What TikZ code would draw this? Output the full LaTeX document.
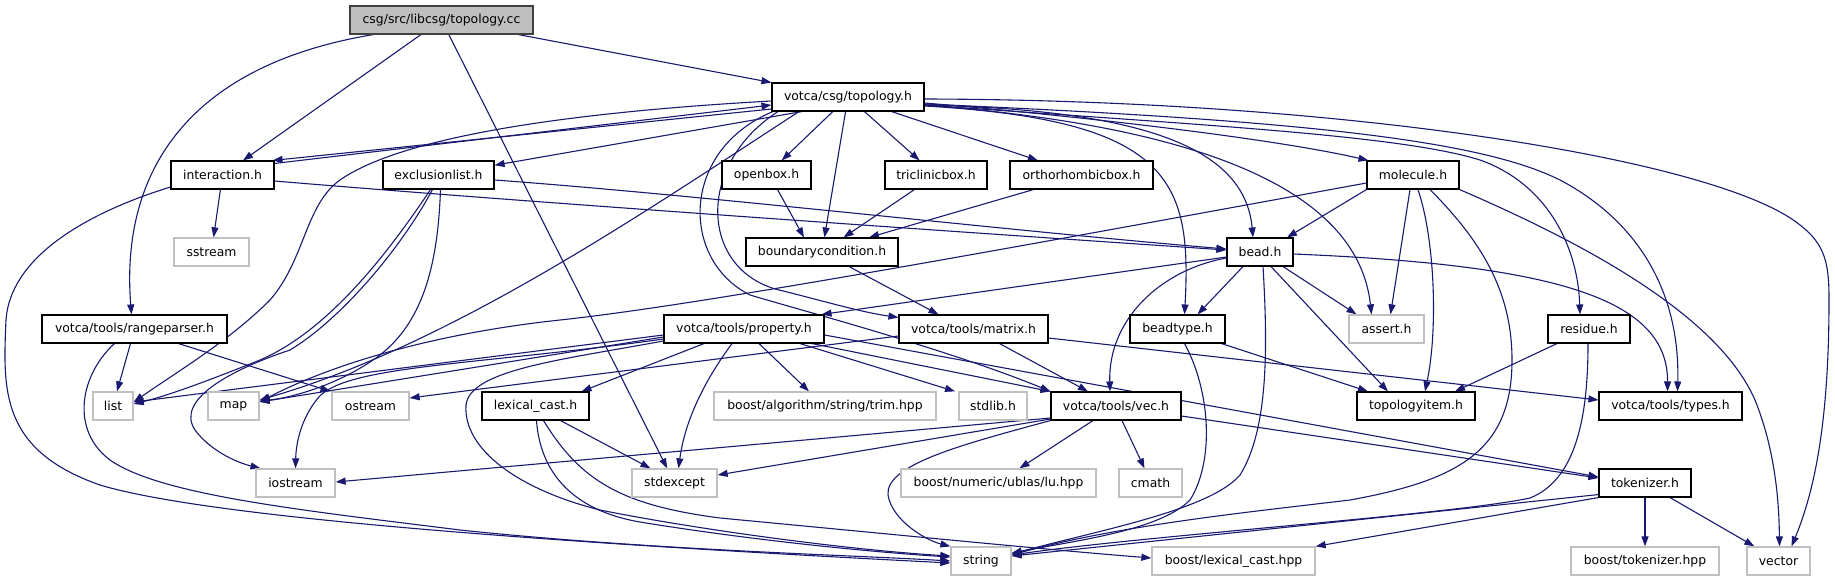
\documentclass[tikz,border=0pt]{standalone}
\usepackage{fontspec}
\setmainfont{DejaVu Sans}
\usetikzlibrary{arrows.meta}
\definecolor{edgeblue}{HTML}{191970}
\definecolor{sysgray}{HTML}{C0C0C0}
\definecolor{rootfill}{HTML}{BFBFBF}
\definecolor{rootdraw}{HTML}{404040}
\pgfdeclarelayer{edges}
\pgfsetlayers{edges,main}
\begin{document}
\begin{tikzpicture}[x=1pt,y=-1pt,
  hdr/.style={draw=black, line width=1.1pt, fill=white, minimum height=28pt, inner sep=0pt, font=\fontsize{12.4}{14}\selectfont},
  sys/.style={hdr, draw=sysgray, line width=1.3pt},
  root/.style={hdr, fill=rootfill, draw=rootdraw},
  dep/.style={draw=edgeblue, line width=1.1pt, -{Triangle[length=10pt,width=7pt]}},
]
\useasboundingbox (0,0) rectangle (1835,581);
% nodes
\node[root, minimum width=183pt] (T) at (441.5,20) {csg/src/libcsg/topology.cc};
\node[hdr, minimum width=152pt] (TH) at (848,97) {votca/csg/topology.h};
\node[hdr, minimum width=103pt] (inter) at (222.5,175) {interaction.h};
\node[hdr, minimum width=111pt] (excl) at (438.5,175) {exclusionlist.h};
\node[hdr, minimum width=89pt] (openbox) at (766.5,175) {openbox.h};
\node[hdr, minimum width=102pt] (tricl) at (936,175) {triclinicbox.h};
\node[hdr, minimum width=143pt] (ortho) at (1081.5,175) {orthorhombicbox.h};
\node[hdr, minimum width=92pt] (molecule) at (1413,175) {molecule.h};
\node[sys, minimum width=75pt] (sstream) at (211.5,252) {sstream};
\node[hdr, minimum width=152pt] (bc) at (822,252) {boundarycondition.h};
\node[hdr, minimum width=66pt] (bead) at (1260,252) {bead.h};
\node[hdr, minimum width=185pt] (range) at (134.5,329) {votca/tools/rangeparser.h};
\node[hdr, minimum width=160pt] (prop) at (744,329) {votca/tools/property.h};
\node[hdr, minimum width=149pt] (matrix) at (973.5,329) {votca/tools/matrix.h};
\node[hdr, minimum width=95pt] (beadtype) at (1177.5,329) {beadtype.h};
\node[sys, minimum width=75pt] (assert) at (1386.5,329) {assert.h};
\node[hdr, minimum width=82pt] (residue) at (1589,329) {residue.h};
\node[sys, minimum width=40pt] (list) at (113,406) {list};
\node[sys, minimum width=51pt] (map) at (233.5,406) {map};
\node[sys, minimum width=77pt] (ostream) at (370.5,406) {ostream};
\node[hdr, minimum width=107pt] (lexcast) at (535.5,406) {lexical\_cast.h};
\node[sys, minimum width=222pt] (trim) at (825,406) {boost/algorithm/string/trim.hpp};
\node[sys, minimum width=68pt] (stdlib) at (993,406) {stdlib.h};
\node[hdr, minimum width=130pt] (vec) at (1116,406) {votca/tools/vec.h};
\node[hdr, minimum width=118pt] (topitem) at (1416,406) {topologyitem.h};
\node[hdr, minimum width=143pt] (types) at (1670.5,406) {votca/tools/types.h};
\node[sys, minimum width=79pt] (iostream) at (295.5,483) {iostream};
\node[sys, minimum width=85pt] (stdexcept) at (674.5,483) {stdexcept};
\node[sys, minimum width=195pt] (lu) at (998.5,483) {boost/numeric/ublas/lu.hpp};
\node[sys, minimum width=63pt] (cmath) at (1150.5,483) {cmath};
\node[hdr, minimum width=92pt] (tokenizer) at (1645,483) {tokenizer.h};
\node[sys, minimum width=60pt] (string) at (981,561) {string};
\node[sys, minimum width=163pt] (lexhpp) at (1233.5,561) {boost/lexical\_cast.hpp};
\node[sys, minimum width=148pt] (tokhpp) at (1645,561) {boost/tokenizer.hpp};
\node[sys, minimum width=63pt] (vector) at (1778.5,561) {vector};

\begin{pgfonlayer}{edges}
\fill[white] (0,0) rectangle (1835,581);
% topology.cc
\draw[dep] ([xshift=-68pt]T.south) .. controls (190,65) and (120,170) .. ([xshift=-3pt]range.north);
\draw[dep] (T) -- (inter);
\draw[dep] (T) -- (stdexcept);
\draw[dep] (T) -- (TH);
% interaction <-> topology.h
\draw[dep] ([yshift=-3pt]inter.north east) -- ([yshift=-8pt]TH.west);
\draw[dep] ([yshift=-12pt]TH.west) -- ([xshift=-2pt]inter.north east);
% topology.h
\draw[dep] ([yshift=-4pt]TH.west) .. controls (520,115) and (390,145) .. (340,180) .. controls (305,205) and (305,260) .. (270,300) .. controls (230,340) and (180,370) .. ([yshift=4pt]list.east);
\draw[dep] ([xshift=-46pt]TH.south) -- (excl);
\draw[dep] (TH) -- (openbox);
\draw[dep] (TH) -- (bc);
\draw[dep] (TH) -- (tricl);
\draw[dep] (TH) -- (ortho);
\draw[dep] ([yshift=-6pt]TH.east) .. controls (1100,118) and (1280,140) .. ([xshift=2pt]molecule.north west);
\draw[dep] ([yshift=-8pt]TH.east) .. controls (1150,110) and (1245,150) .. ([xshift=-7pt]bead.north);
\draw[dep] ([yshift=-9pt]TH.east) .. controls (1170,120) and (1192,180) .. ([xshift=7pt]beadtype.north);
\draw[dep] ([yshift=-8pt]TH.east) .. controls (1250,130) and (1360,210) .. ([xshift=-15pt]assert.north);
\draw[dep] ([yshift=-8pt]TH.east) .. controls (1200,125) and (1400,135) .. (1480,160) .. controls (1550,185) and (1578,250) .. ([xshift=-9pt]residue.north);
\draw[dep] ([yshift=-7pt]TH.east) .. controls (1300,120) and (1480,140) .. (1560,180) .. controls (1645,225) and (1680,300) .. ([xshift=7pt]types.north);
\draw[dep] ([yshift=-2pt]TH.east) .. controls (1350,100) and (1720,160) .. (1800,225) .. controls (1826,245) and (1829,265) .. (1829,300) .. controls (1829,420) and (1815,490) .. ([xshift=13pt]vector.north);
\draw[dep] ([xshift=-75pt]TH.south) .. controls (680,150) and (680,260) .. (750,295) .. controls (800,310) and (950,350) .. (vec.north west);
\draw[dep] ([xshift=-70pt]TH.south) .. controls (695,165) and (700,270) .. (779,290) .. controls (820,300) and (860,312) .. ([yshift=-3pt]matrix.north west);
\draw[dep] ([xshift=-49pt]TH.south) .. controls (640,215) and (450,345) .. ([yshift=6pt]map.east);
% molecule
\draw[dep] ([yshift=-8pt]molecule.west) .. controls (1000,250) and (700,305) .. (560,320) .. controls (420,335) and (320,370) .. ([yshift=4pt]map.east);
\draw[dep] (molecule.south west) -- ([xshift=27pt]bead.north);
\draw[dep] ([xshift=-3pt]molecule.south) -- ([xshift=4pt]assert.north);
\draw[dep] ([xshift=5pt]molecule.south) .. controls (1435,240) and (1438,330) .. ([xshift=9pt]topitem.north);
\draw[dep] ([xshift=17pt]molecule.south) .. controls (1480,240) and (1512,290) .. (1512,360) .. controls (1512,450) and (1460,480) .. (1350,500) .. controls (1250,512) and (1120,525) .. ([yshift=6pt]string.east);
\draw[dep] (molecule.south east) .. controls (1600,250) and (1720,320) .. (1755,400) .. controls (1775,450) and (1779,500) .. ([xshift=1pt]vector.north);
% bead
\draw[dep] ([yshift=-5pt]bead.west) -- ([xshift=-3pt]prop.north east);
\draw[dep] ([yshift=-6pt]bead.west) .. controls (1160,270) and (1108,320) .. ([xshift=-6pt]vec.north);
\draw[dep] ([xshift=3pt]bead.south) .. controls (1268,350) and (1268,430) .. (1240,475) .. controls (1210,510) and (1100,530) .. ([yshift=7pt]string.east);
\draw[dep] ([xshift=-17pt]bead.south) -- ([xshift=20pt]beadtype.north);
\draw[dep] ([xshift=11pt]bead.south) -- ([xshift=-28pt]topitem.north);
\draw[dep] ([xshift=23pt]bead.south) -- ([xshift=-30pt]assert.north);
\draw[dep] ([yshift=-2pt]bead.east) .. controls (1560,265) and (1668,300) .. ([xshift=-3pt]types.north);
% beadtype
\draw[dep] ([xshift=-4pt]beadtype.south east) -- ([xshift=-48pt]topitem.north);
\draw[dep] ([xshift=7pt]beadtype.south) .. controls (1210,390) and (1215,460) .. (1190,500) .. controls (1160,530) and (1080,540) .. ([yshift=8pt]string.east);
% residue
\draw[dep] ([xshift=-32pt]residue.south) -- ([xshift=39pt]topitem.north);
\draw[dep] ([xshift=-1pt]residue.south) .. controls (1588,420) and (1575,480) .. (1530,498) .. controls (1450,515) and (1150,535) .. ([yshift=6pt]string.east);
% tokenizer
\draw[dep] ([yshift=3pt]tokenizer.south west) -- ([yshift=5pt]string.east);
\draw[dep] (tokenizer.south west) -- (lexhpp.north east);
\draw[dep] (tokenizer) -- (tokhpp);
\draw[dep] ([xshift=25pt]tokenizer.south) -- ([xshift=8pt]vector.north west);
% vec
\draw[dep] ([yshift=-12pt]vec.west) -- ([yshift=1pt]iostream.east);
\draw[dep] ([yshift=-13pt]vec.west) -- ([yshift=8pt]stdexcept.east);
\draw[dep] (vec.south west) .. controls (960,445) and (885,465) .. (888,495) .. controls (892,520) and (925,540) .. (string.north west);
\draw[dep] ([xshift=-23pt]vec.south) -- ([xshift=21pt]lu.north);
\draw[dep] ([xshift=6pt]vec.south) -- ([xshift=-6pt]cmath.north);
\draw[dep] ([yshift=-10pt]vec.east) -- ([yshift=5pt]tokenizer.west);
% matrix
\draw[dep] ([xshift=26pt]matrix.south) -- ([xshift=-28pt]vec.north);
\draw[dep] ([yshift=-7pt]matrix.west) -- ([yshift=8pt]ostream.east);
\draw[dep] ([yshift=-9pt]matrix.east) -- ([yshift=6pt]types.west);
% boundary condition and boxes
\draw[dep] ([xshift=27pt]bc.south) -- ([xshift=-35pt]matrix.north);
\draw[dep] ([xshift=11pt]openbox.south) -- ([xshift=-18pt]bc.north);
\draw[dep] (tricl) -- (bc);
\draw[dep] ([xshift=-48pt]ortho.south) -- ([xshift=47pt]bc.north);
% property
\draw[dep] ([yshift=-6pt]prop.west) -- ([yshift=4pt]list.east);
\draw[dep] ([yshift=-8pt]prop.west) -- ([yshift=4pt]map.east);
\draw[dep] ([yshift=-10pt]prop.west) .. controls (480,365) and (345,365) .. (318,398) .. controls (300,420) and (296,445) .. (iostream.north);
\draw[dep] ([yshift=-12pt]prop.west) .. controls (560,360) and (470,370) .. (466,405) .. controls (463,450) and (520,490) .. (600,510) .. controls (700,530) and (850,550) .. ([yshift=5pt]string.west);
\draw[dep] ([xshift=-40pt]prop.south) -- ([xshift=46pt]lexcast.north);
\draw[dep] ([xshift=-12pt]prop.south) .. controls (705,380) and (685,420) .. ([xshift=4pt]stdexcept.north);
\draw[dep] ([xshift=15pt]prop.south) -- ([xshift=-16pt]trim.north);
\draw[dep] ([xshift=56pt]prop.south) -- ([xshift=-38pt]stdlib.north);
\draw[dep] ([xshift=68pt]prop.south) -- (vec.north west);
\draw[dep] ([yshift=-6pt]prop.east) -- ([yshift=6pt]tokenizer.west);
% lexical_cast.h
\draw[dep] ([xshift=25pt]lexcast.south) -- ([xshift=-24pt]stdexcept.north);
\draw[dep] ([xshift=1pt]lexcast.south) .. controls (540,470) and (570,510) .. (640,522) .. controls (750,540) and (870,552) .. ([yshift=4pt]string.west);
\draw[dep] ([xshift=8pt]lexcast.south) .. controls (580,480) and (620,505) .. (720,518) .. controls (900,535) and (1050,550) .. ([yshift=3pt]lexhpp.west);
% interaction.h
\draw[dep] (inter) -- (sstream);
\draw[dep] ([yshift=-6pt]inter.east) .. controls (500,200) and (900,228) .. ([yshift=2pt]bead.west);
\draw[dep] ([yshift=-12pt]inter.west) .. controls (80,215) and (10,260) .. (6,320) .. controls (3,390) and (0,450) .. (100,485) .. controls (200,515) and (500,540) .. ([yshift=-2pt]string.west);
% rangeparser.h
\draw[dep] ([xshift=-4pt]range.south) -- ([xshift=4pt]list.north);
\draw[dep] ([xshift=44pt]range.south) -- ([xshift=-40pt]ostream.north);
\draw[dep] ([xshift=-20pt]range.south) .. controls (80,375) and (70,430) .. (110,460) .. controls (160,495) and (300,510) .. (460,530) .. controls (650,550) and (850,555) .. (string.west);
% exclusionlist.h
\draw[dep] ([yshift=-5pt]excl.east) .. controls (700,195) and (1000,230) .. ([yshift=3pt]bead.west);
\draw[dep] ([xshift=-8pt]excl.south) .. controls (390,250) and (330,330) .. (260,360) .. controls (210,380) and (170,395) .. ([yshift=2pt]list.east);
\draw[dep] ([xshift=-6pt]excl.south) .. controls (400,250) and (340,320) .. (290,350) .. controls (230,370) and (175,400) .. (195,430) .. controls (210,450) and (235,462) .. ([xshift=-35pt]iostream.north);
\draw[dep] ([xshift=2pt]excl.south) .. controls (438,260) and (425,320) .. (380,355) .. controls (340,385) and (290,398) .. ([yshift=5pt]map.east);
\end{pgfonlayer}
\end{tikzpicture}
\end{document}
